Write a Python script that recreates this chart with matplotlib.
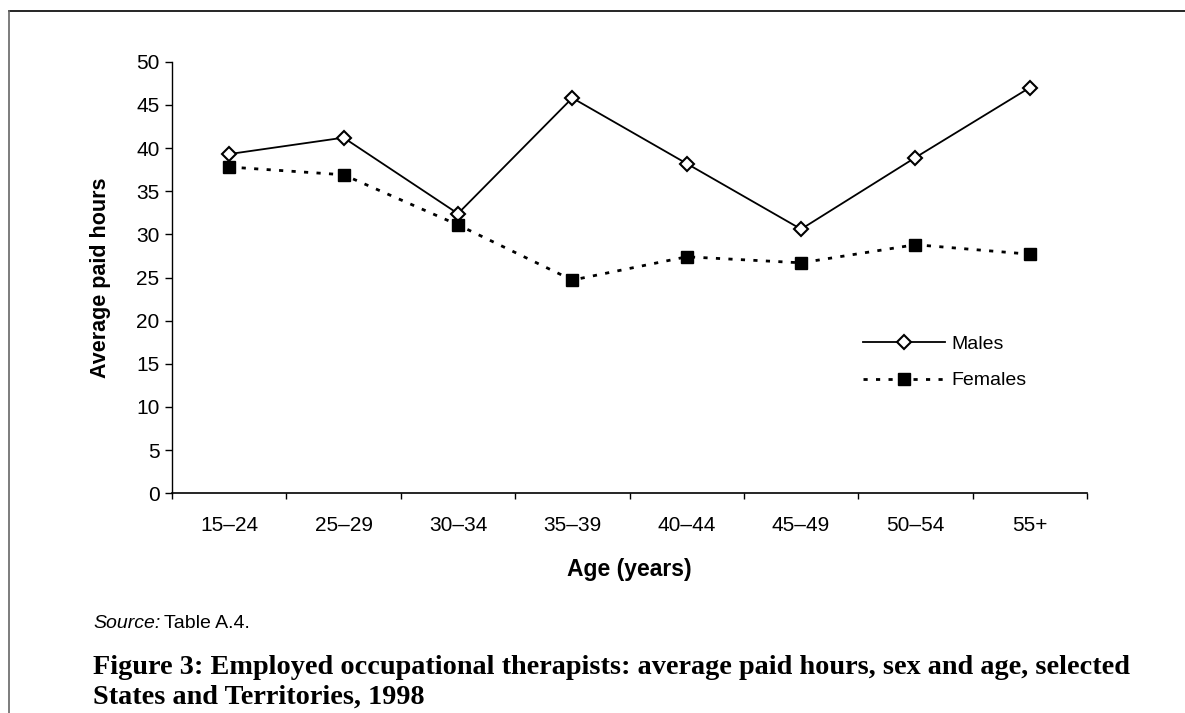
import matplotlib
matplotlib.use('Agg')
import matplotlib.pyplot as plt
from matplotlib.lines import Line2D

# Data
age_groups = ['15–24', '25–29', '30–34', '35–39', '40–44', '45–49', '50–54', '55+']
males = [39.3, 41.2, 32.4, 45.8, 38.2, 30.6, 38.9, 47.0]
females = [37.8, 36.9, 31.1, 24.7, 27.4, 26.7, 28.8, 27.7]

plt.rcParams['font.family'] = ['Liberation Sans', 'DejaVu Sans']

W, H = 1185, 713
fig = plt.figure(figsize=(W / 100, H / 100), dpi=100)
ax = fig.add_axes([172 / W, 1 - 493.3 / H, (1087 - 172) / W, (493.3 - 61.7) / H])

x = [i + 0.5 for i in range(len(age_groups))]
ax.plot(x, males, color='black', lw=1.3, marker='D', ms=7, mfc='white',
        mec='black', mew=1.5, label='Males')
ax.plot(x, females, color='black', lw=2.0, ls=(0, (1.5, 3)), marker='s', ms=8,
        mfc='black', mec='black', label='Females')

ax.set_xlim(0, len(age_groups))
ax.set_ylim(0, 50)
ax.set_yticks(range(0, 51, 5))
ax.set_xticks(range(0, len(age_groups) + 1))
ax.set_xticklabels([])
ax.set_xticks(x, minor=True)
ax.set_xticklabels(age_groups, minor=True)
ax.tick_params(axis='x', which='major', direction='out', length=4.5, width=1)
ax.tick_params(axis='x', which='minor', length=0, labelsize=15, pad=16)
ax.tick_params(axis='y', direction='out', length=5, width=1, labelsize=15, pad=4)

for s in ['top', 'right']:
    ax.spines[s].set_visible(False)
ax.spines['left'].set_linewidth(1)
ax.spines['bottom'].set_linewidth(1.2)

ax.set_ylabel('Average paid hours', fontsize=15.5, fontweight='bold', labelpad=18)
ax.set_xlabel('Age (years)', fontsize=16.5, fontweight='bold', labelpad=17)

leg = ax.legend(loc='center left', bbox_to_anchor=((863 - 172) / (1087 - 172), 1 - (362.5 - 61.7) / (493.3 - 61.7)),
                frameon=False, fontsize=14, handlelength=4.2, handletextpad=0.35,
                borderpad=0, borderaxespad=0, labelspacing=0.95)

src = fig.text(93 / W, 1 - 623 / H, 'Source:', fontsize=14, style='italic', va='center')
ax.annotate('Table A.4.', xy=(1, 0.5), xycoords=src, xytext=(3, 0),
            textcoords='offset points', fontsize=14, va='center', annotation_clip=False)
fig.text(93 / W, 1 - 682.5 / H,
         'Figure 3: Employed occupational therapists: average paid hours, sex and age, selected\n'
         'States and Territories, 1998',
         fontsize=20.3, fontweight='bold', family=['Liberation Serif', 'DejaVu Serif'],
         va='center', linespacing=1.27)

# page frame lines (top and left)
fig.add_artist(Line2D([9 / W, 1], [1 - 11 / H, 1 - 11 / H], color='black', lw=1.2))
fig.add_artist(Line2D([9 / W, 9 / W], [0, 1 - 11 / H], color='#666666', lw=1.2))

fig.savefig('out.png', dpi=100)
